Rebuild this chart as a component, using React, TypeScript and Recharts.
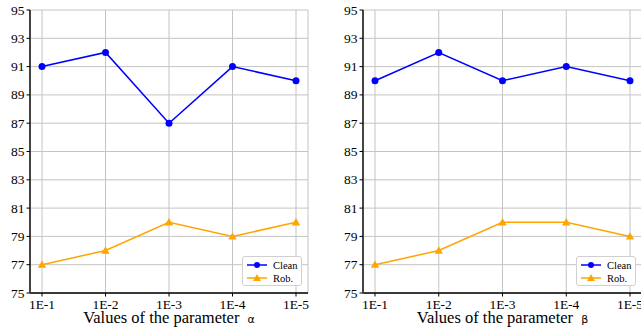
import React from "react";
import { CartesianGrid, Line, LineChart, XAxis, YAxis } from "recharts";

const categories = ["1E-1", "1E-2", "1E-3", "1E-4", "1E-5"];
const yTicks = [75, 77, 79, 81, 83, 85, 87, 89, 91, 93, 95];

const alphaClean = [91, 92, 87, 91, 90];
const alphaRob = [77, 78, 80, 79, 80];
const betaClean = [90, 92, 90, 91, 90];
const betaRob = [77, 78, 80, 80, 79];

const FONT = "Liberation Serif";
const BLUE = "#0000ff";
const ORANGE = "#ffa500";

function buildRows(clean: number[], rob: number[]) {
  return categories.map((x, i) => ({ x, clean: clean[i], rob: rob[i] }));
}

function Triangle(props: any) {
  const { cx, cy, fill } = props;
  if (cx == null || cy == null) return null;
  const r = 4.2;
  return (
    <polygon
      points={`${cx},${cy - r} ${cx - r},${cy + r * 0.75} ${cx + r},${cy + r * 0.75}`}
      fill={fill}
    />
  );
}

function XTick(props: any) {
  const { x, y, payload } = props;
  return (
    <text x={x} y={y + 10} textAnchor="middle" fill="#000" fontFamily={FONT} fontSize={13.5}>
      {payload.value}
    </text>
  );
}

function YTick(props: any) {
  const { x, y, payload } = props;
  return (
    <text x={x} y={y + 4.5} textAnchor="end" fill="#000" fontFamily={FONT} fontSize={13.5}>
      {payload.value}
    </text>
  );
}

function LegendBox({ left }: { left: number }) {
  return (
    <div
      style={{
        position: "absolute",
        left,
        top: 256,
        width: 60,
        height: 30,
        border: "1px solid #d0d0d0",
        borderRadius: 3,
        background: "#fff",
        boxSizing: "border-box",
      }}
    >
      <svg width={58} height={28} style={{ display: "block" }}>
        <line x1={4} y1={8} x2={24} y2={8} stroke={BLUE} strokeWidth={1.5} />
        <circle cx={14} cy={8} r={3} fill={BLUE} />
        <text x={30} y={11.5} fontFamily={FONT} fontSize={10.5}>
          Clean
        </text>
        <line x1={4} y1={21} x2={24} y2={21} stroke={ORANGE} strokeWidth={1.5} />
        <polygon points="14,17 10,24 18,24" fill={ORANGE} />
        <text x={30} y={24.5} fontFamily={FONT} fontSize={10.5}>
          Rob.
        </text>
      </svg>
    </div>
  );
}

function XLabel(props: any) {
  const { viewBox, symbol } = props;
  const cx = viewBox.x + viewBox.width / 2;
  return (
    <text
      x={cx}
      y={viewBox.y + 29.5}
      textAnchor="middle"
      fill="#000"
      fontFamily={FONT}
      fontSize={16.5}
    >
      Values of the parameter{" "}
      <tspan dx={4} fontFamily="DejaVu Sans" fontSize={11}>
        {symbol}
      </tspan>
    </text>
  );
}

function Panel({
  clean,
  rob,
  symbol,
  width,
}: {
  clean: number[];
  rob: number[];
  symbol: string;
  width: number;
}) {
  const data = buildRows(clean, rob);
  return (
    <div style={{ position: "relative", width, height: 331 }}>
      <LineChart
        width={width}
        height={331}
        data={data}
        margin={{ top: 10, right: 12, left: 0, bottom: 0 }}
      >
        <CartesianGrid stroke="#c4c4c4" strokeWidth={1} />
        <XAxis
          dataKey="x"
          height={38}
          padding={{ left: 12, right: 12 }}
          tick={<XTick />}
          tickLine={{ stroke: "#000" }}
          tickSize={3.5}
          axisLine={{ stroke: "#000", strokeWidth: 1.5 }}
          interval={0}
          label={<XLabel symbol={symbol} />}
        />
        <XAxis
          xAxisId="top"
          dataKey="x"
          orientation="top"
          height={0}
          tick={false}
          tickLine={false}
          axisLine={{ stroke: "#555", strokeWidth: 2 }}
        />
        <YAxis
          width={30}
          domain={[75, 95]}
          ticks={yTicks}
          interval={0}
          tick={<YTick />}
          tickLine={{ stroke: "#000" }}
          tickSize={3.5}
          axisLine={{ stroke: "#444", strokeWidth: 2 }}
        />
        <YAxis
          yAxisId="right"
          orientation="right"
          width={0}
          domain={[75, 95]}
          tick={false}
          tickLine={false}
          axisLine={{ stroke: "#000", strokeWidth: 1.2 }}
        />
        <Line
          dataKey="clean"
          name="Clean"
          stroke={BLUE}
          strokeWidth={1.5}
          dot={{ r: 3.5, fill: BLUE, stroke: BLUE, strokeWidth: 0 }}
          isAnimationActive={false}
        />
        <Line
          dataKey="rob"
          name="Rob."
          stroke={ORANGE}
          strokeWidth={1.5}
          dot={<Triangle fill={ORANGE} />}
          isAnimationActive={false}
        />
      </LineChart>
      <LegendBox left={width - 12 - 66} />
    </div>
  );
}

export default function App() {
  return (
    <div
      style={{
        position: "absolute",
        left: 0,
        top: 0,
        width: 641,
        height: 331,
        overflow: "hidden",
        background: "#fff",
        fontFamily: FONT,
      }}
    >
      <div style={{ position: "absolute", left: 0, top: 0 }}>
        <Panel clean={alphaClean} rob={alphaRob} symbol="α" width={320} />
      </div>
      <div style={{ position: "absolute", left: 333, top: 0 }}>
        <Panel clean={betaClean} rob={betaRob} symbol="β" width={321} />
      </div>
    </div>
  );
}
